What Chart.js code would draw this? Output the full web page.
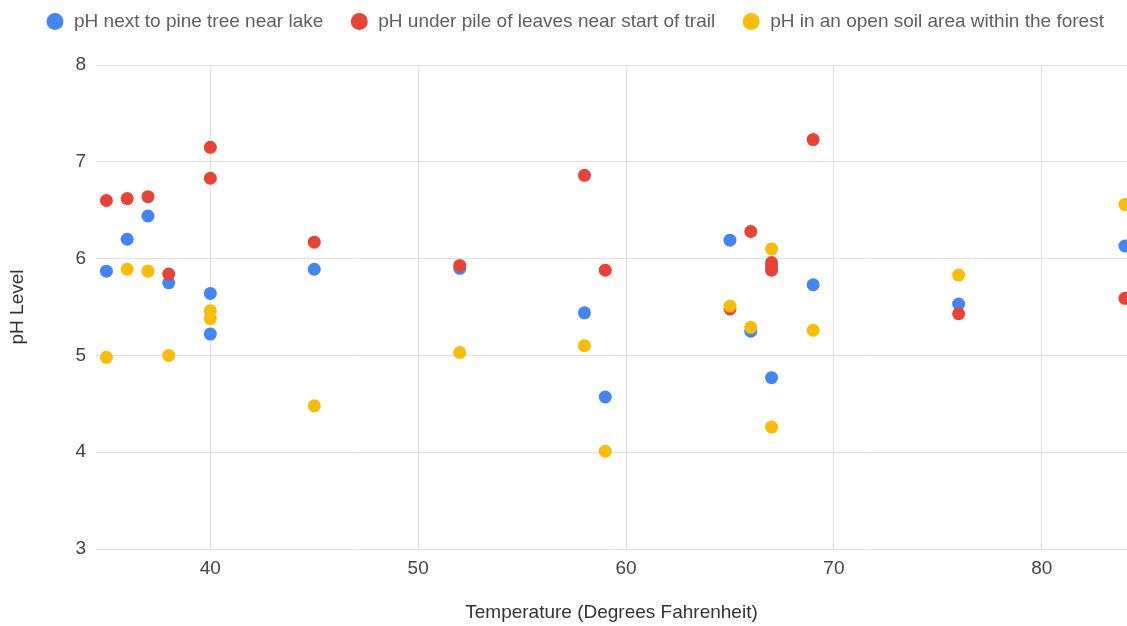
<!DOCTYPE html>
<html>
<head>
<meta charset="utf-8">
<script src="https://cdn.jsdelivr.net/npm/chart.js@4"></script>
<style>
  html, body { margin: 0; padding: 0; background: #fff; }
  #wrap { width: 1127px; height: 626px; }
</style>
</head>
<body>
<div id="wrap"><canvas id="phChart" width="1127" height="626"></canvas></div>
<script>
// temperatures (°F) shared by all three series
const temps = [35, 36, 37, 38, 40, 40, 45, 52, 58, 59, 65, 66, 67, 67, 69, 76, 84];
const phPine = [5.87, 6.20, 6.44, 5.75, 5.64, 5.22, 5.89, 5.90, 5.44, 4.57, 6.19, 5.25, 5.92, 4.77, 5.73, 5.53, 6.13];
const phLeaves = [6.60, 6.62, 6.64, 5.84, 7.15, 6.83, 6.17, 5.93, 6.86, 5.88, 5.48, 6.28, 5.96, 5.88, 7.23, 5.43, 5.59];
const phSoil = [4.98, 5.89, 5.87, 5.00, 5.46, 5.38, 4.48, 5.03, 5.10, 4.01, 5.51, 5.29, 6.10, 4.26, 5.26, 5.83, 6.56];
const seriesNames = [
  "pH next to pine tree near lake",
  "pH under pile of leaves near start of trail",
  "pH in an open soil area within the forest"
];
const xTicks = [40, 50, 60, 70, 80];
const yTicks = [3, 4, 5, 6, 7, 8];

const FONT = "Arial, 'Liberation Sans', sans-serif";
const toPoints = ys => temps.map((t, i) => ({ x: t, y: ys[i] }));

// keep the legend on one row at a fixed height, nudged to the original placement
const legendFix = {
  id: "legendFix",
  beforeInit(chart) {
    const fit = chart.legend.fit;
    chart.legend.fit = function () {
      this.maxWidth += 300;
      fit.call(this);
      this.height = 65;
    };
  },
  afterLayout(chart) {
    const lg = chart.legend;
    lg.left += 19;
    lg.right += 300;
    lg.top -= 14.5;
  }
};

const dataset = (label, ys, color, order) => ({
  label,
  data: toPoints(ys),
  backgroundColor: color,
  borderColor: color,
  pointRadius: 6.5,
  pointHoverRadius: 7,
  borderWidth: 0,
  order,
  clip: false
});

new Chart(document.getElementById("phChart"), {
  type: "scatter",
  data: {
    datasets: [
      dataset(seriesNames[0], phPine, "#4285F4", 2),
      dataset(seriesNames[1], phLeaves, "#EA4335", 1),
      dataset(seriesNames[2], phSoil, "#FBBC04", 0)
    ]
  },
  plugins: [legendFix],
  options: {
    responsive: false,
    animation: false,
    layout: { padding: 0, autoPadding: false },
    plugins: {
      tooltip: { enabled: false },
      legend: {
        position: "top",
        align: "start",
        labels: {
          usePointStyle: true,
          pointStyle: "circle",
          boxWidth: 19,
          boxHeight: 12,
          padding: 26.5,
          color: "#5f5f5f",
          font: { family: FONT, size: 19 },
          sort: (a, b) => a.datasetIndex - b.datasetIndex
        }
      }
    },
    scales: {
      x: {
        type: "linear",
        min: 34.5,
        max: 84.1,
        afterBuildTicks: s => { s.ticks = xTicks.map(v => ({ value: v })); },
        afterFit: s => { s.height = 77; s.paddingLeft = 0; s.paddingRight = 0; },
        grid: { color: "#e0e0e0", lineWidth: 1, drawTicks: false },
        border: { display: false },
        ticks: { padding: 8, color: "#444", font: { family: FONT, size: 19 } },
        title: {
          display: true,
          text: "Temperature (Degrees Fahrenheit)",
          color: "#333",
          font: { family: FONT, size: 19 },
          padding: { top: 0, bottom: 2 }
        }
      },
      y: {
        type: "linear",
        min: 3,
        max: 8,
        afterBuildTicks: s => { s.ticks = yTicks.map(v => ({ value: v })); },
        afterFit: s => { s.width = 96; },
        grid: { color: "#e0e0e0", lineWidth: 1, drawTicks: false },
        border: { display: false },
        ticks: { padding: 10, color: "#444", font: { family: FONT, size: 19 } },
        title: {
          display: true,
          text: "pH Level",
          color: "#333",
          font: { family: FONT, size: 19 },
          padding: { top: 6, bottom: 0 }
        }
      }
    }
  }
});
</script>
</body>
</html>
